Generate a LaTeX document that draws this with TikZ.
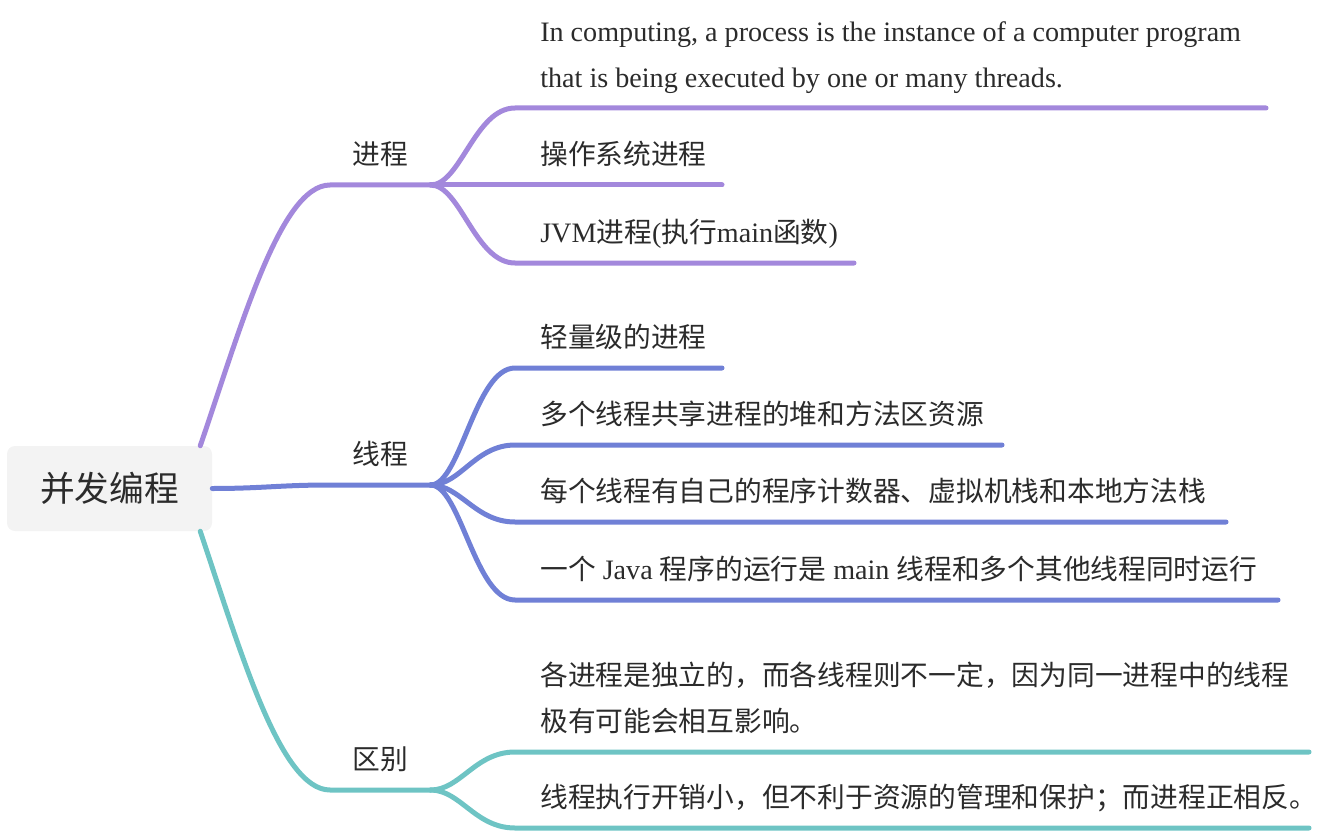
\documentclass[tikz,border=0pt]{standalone}
\usepackage{fontspec}
\setmainfont{Liberation Serif}
\newfontfamily\zhfont[Scale=0.986]{Noto Sans CJK SC}
\newcommand{\zh}[1]{{\zhfont #1}}

\definecolor{procpurple}{HTML}{A388DC}
\definecolor{threadblue}{HTML}{7080D6}
\definecolor{diffteal}{HTML}{6EC4C4}
\definecolor{rootgray}{HTML}{F3F3F3}
\definecolor{inkgray}{HTML}{2B2B2B}

\tikzset{
  branchline/.style={line width=3.75pt,line cap=round},
  leaf/.style={anchor=south west,inner xsep=0pt,inner ysep=4.8pt,align=left,
    text=inkgray,font=\fontsize{21.1}{34.5}\selectfont,execute at end node=\strut},
  topic/.style={leaf,minimum width=75pt,align=center},
  root/.style={fill=rootgray,rounded corners=6pt,minimum width=153.75pt,
    minimum height=63.75pt,text=inkgray,font=\fontsize{26.4}{30}\selectfont},
}

\begin{document}
\begin{tikzpicture}[x=0.75pt,y=-0.75pt]
  \useasboundingbox (0,0) rectangle (1344,834);

  % root and topics
  \node[root] (root) at (109.5,488.5) {\zh{并发编程}};
  \node[topic] (proc) at (330,185) {\zh{进程}};
  \node[topic] (thrd) at (330,485) {\zh{线程}};
  \node[topic] (diff) at (330,790) {\zh{区别}};

  % leaves
  \node[leaf] (p1) at (540,108) {In computing, a process is the instance of a computer program\\that is being executed by one or many threads.};
  \node[leaf] (p2) at (540,185) {\zh{操作系统进程}};
  \node[leaf] (p3) at (540,263) {JVM\zh{进程}(\zh{执行}main\zh{函数})};

  \node[leaf] (t1) at (540,368) {\zh{轻量级的进程}};
  \node[leaf] (t2) at (540,445) {\zh{多个线程共享进程的堆和方法区资源}};
  \node[leaf] (t3) at (540,522) {\zh{每个线程有自己的程序计数器、虚拟机栈和本地方法栈}};
  \node[leaf] (t4) at (540,600) {\zh{一个} Java \zh{程序的运行是} main \zh{线程和多个其他线程同时运行}};

  \node[leaf] (d1) at (540,752) {\zh{各进程是独立的，而各线程则不一定，因为同一进程中的线程}\\\zh{极有可能会相互影响。}};
  \node[leaf] (d2) at (540,828) {\zh{线程执行开销小，但不利于资源的管理和保护；而进程正相反。}};

  % root to topics
  \draw[branchline,procpurple] ([shift={(-12,0)}]root.north east) .. controls +(40,-116) and +(-50,0) .. (proc.south west) -- (proc.south east);
  \draw[branchline,threadblue] (root.east) .. controls +(50,0) and +(-50,0) .. (thrd.south west) -- (thrd.south east);
  \draw[branchline,diffteal] ([shift={(-12,0)}]root.south east) .. controls +(40,119) and +(-50,0) .. (diff.south west) -- (diff.south east);

  % topics to leaves
  \draw[branchline,procpurple] (proc.south east) .. controls +(30,0) and +(-40,0) .. ([shift={(-25,0)}]p1.south west) -- ([shift={(726,0)}]p1.south west);
  \draw[branchline,procpurple] (proc.south east) -- ([shift={(182,0)}]p2.south west);
  \draw[branchline,procpurple] (proc.south east) .. controls +(30,0) and +(-40,0) .. ([shift={(-25,0)}]p3.south west) -- ([shift={(314,0)}]p3.south west);

  \draw[branchline,threadblue] (thrd.south east) .. controls +(30,0) and +(-40,0) .. ([shift={(-25,0)}]t1.south west) -- ([shift={(182,0)}]t1.south west);
  \draw[branchline,threadblue] (thrd.south east) .. controls +(30,0) and +(-40,0) .. ([shift={(-25,0)}]t2.south west) -- ([shift={(462,0)}]t2.south west);
  \draw[branchline,threadblue] (thrd.south east) .. controls +(30,0) and +(-40,0) .. ([shift={(-25,0)}]t3.south west) -- ([shift={(686,0)}]t3.south west);
  \draw[branchline,threadblue] (thrd.south east) .. controls +(30,0) and +(-40,0) .. ([shift={(-25,0)}]t4.south west) -- ([shift={(738,0)}]t4.south west);

  \draw[branchline,diffteal] (diff.south east) .. controls +(30,0) and +(-40,0) .. ([shift={(-25,0)}]d1.south west) -- ([shift={(769,0)}]d1.south west);
  \draw[branchline,diffteal] (diff.south east) .. controls +(30,0) and +(-40,0) .. ([shift={(-25,0)}]d2.south west) -- ([shift={(769,0)}]d2.south west);
\end{tikzpicture}
\end{document}
